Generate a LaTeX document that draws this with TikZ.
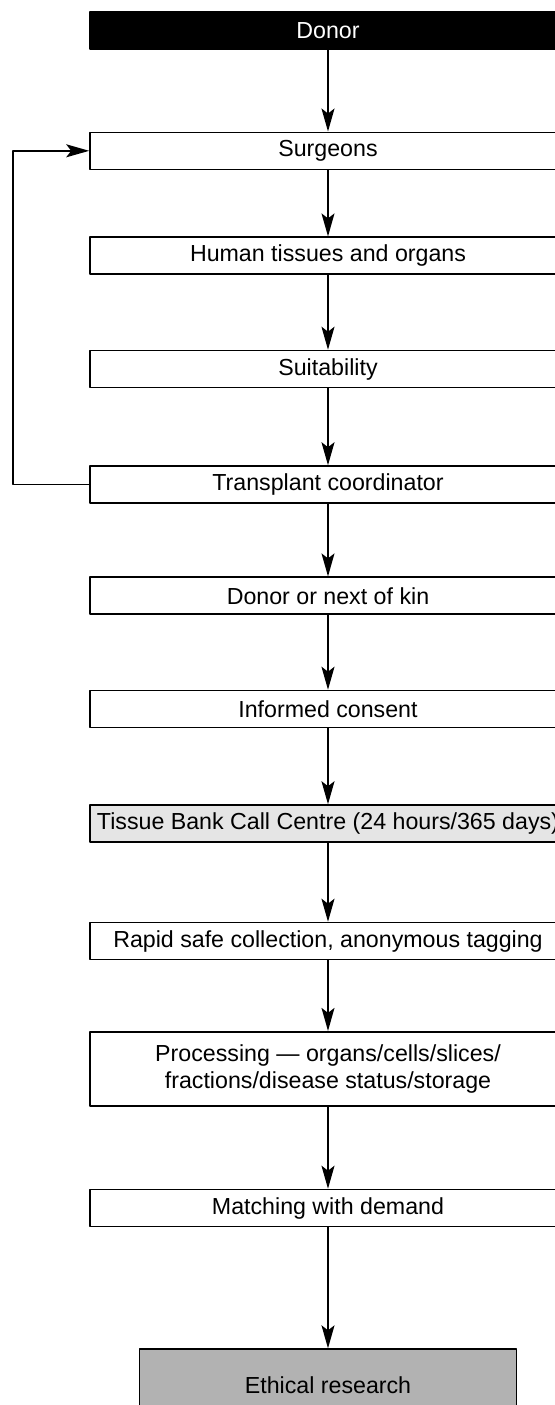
\documentclass[tikz,border=0pt]{standalone}
\usepackage{fontspec}
\setmainfont{Liberation Sans}
\usetikzlibrary{arrows.meta}
\begin{document}
\begin{tikzpicture}[x=0.5pt, y=-0.5pt, >={Stealth[length=11.5pt,width=6.5pt,inset=2.5pt]},
		line join=round, font=\fontsize{11.6}{13.5}\selectfont,
		stage/.style={draw, line width=0.8pt, minimum width=238pt, minimum height=18.5pt, inner sep=0pt, align=center},
		link/.style={->, line width=0.8pt}]
	\useasboundingbox (0,0) rectangle (554,1405);
	\node [stage, fill=black, text=white] (donor) at (328,30.4) {Donor};
	\foreach \n/\y/\t in {surgeons/150.8/Surgeons, tissues/255.7/Human tissues and organs,
		suitability/369/Suitability, coordinator/484.5/Transplant coordinator,
		kin/595.7/Donor or next of kin, consent/709/Informed consent,
		collection/941/{Rapid safe collection, anonymous tagging}, matching/1208/Matching with demand}{
		\node [stage] (\n) at (328,\y) {\t};
	}
	\node [stage, fill=black!10] (callcentre) at (328,823.5) {Tissue Bank Call Centre (24 hours/365 days)};
	\node [stage, minimum height=37pt] (processing) at (328,1068.7) {Processing --- organs/cells/slices/\\fractions/disease status/storage};
	\node [stage, fill=black!30, minimum width=188.5pt, minimum height=36.5pt] (research) at (328,1385.6) {Ethical research};
	\foreach \a/\b in {donor/surgeons, surgeons/tissues, tissues/suitability, suitability/coordinator,
		coordinator/kin, kin/consent, consent/callcentre, callcentre/collection,
		collection/processing, processing/matching, matching/research}{
		\draw [link] (\a.south) -- (\b.north);
	}
	% back to the surgeons
	\draw [link] (coordinator.west) -- ++(-76.3,0) coordinate (turn) |- (surgeons.west);
\end{tikzpicture}
\end{document}
